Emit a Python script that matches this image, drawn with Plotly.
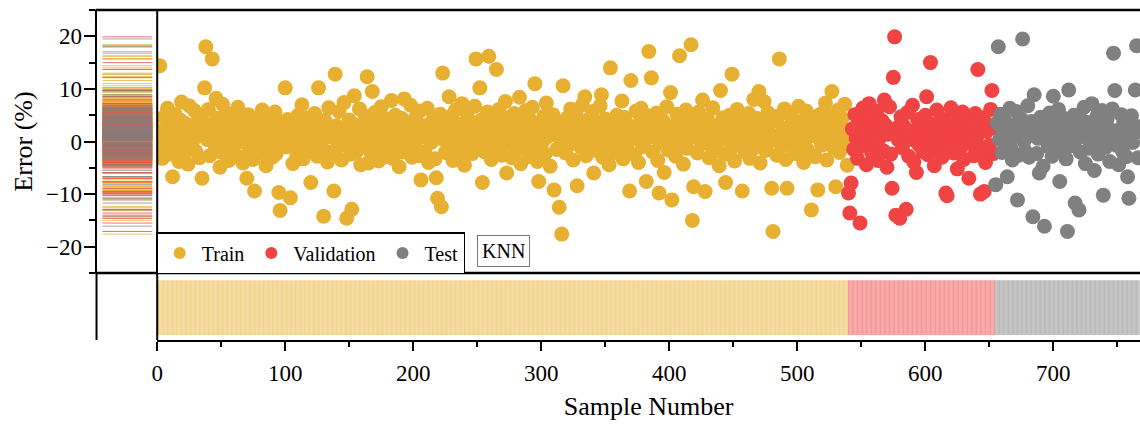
import plotly.graph_objects as go

# ---------------- data (error % per sample) ----------------
train_err = [
    2.1, -1.5, 14.4, 0.8, -3.2, 4.6, 1.2, -0.5, 6.3, 3.1, -2.4, 0.3, -6.7, 2.8, 5.2, -1.1, 1.7, -3.8, 4.1, 7.5,
    0.6, -2.2, 3.4, 1.9, -4.3, 6.8, 2.5, -0.9, 0.2, 5.9, -1.8, 3.7, 1.1, -3.1, 4.8, -7.0, 2.2, 10.2, 18.0, 0.4,
    6.1, -2.7, 3.3, 15.7, 1.5, -0.6, 8.2, 4.4, -1.9, -4.9, 2.9, 7.1, 0.1, -2.5, 5.4, 1.6, -3.6, 3.0, 0.7, -1.2,
    4.7, 2.3, -0.3, 6.5, -2.9, 1.4, 3.8, -4.1, 0.9, 2.6, -7.0, 5.1, -1.4, 3.5, 0.5, -3.4, -9.4, 1.8, 4.3, -0.8,
    2.0, -2.1, 6.0, 0.0, 3.2, -4.6, 1.3, 4.9, -1.6, 2.7, -3.0, 0.6, 5.6, -2.3, 1.0, -9.7, -13.1, 3.6, -0.2, 2.4,
    10.2, -1.0, 4.2, 0.8, -10.7, 2.1, -4.2, 3.9, 1.6, -2.6, 5.0, -0.4, 2.9, 7.0, -3.3, 1.2, 4.5, -1.7, 0.3, 3.1,
    -7.8, 2.2, -0.7, 5.3, 1.9, -2.8, 10.2, 3.4, 0.4, -1.3, -14.2, 4.0, 1.5, -3.9, 6.4, 0.9, -2.0, 2.6, -9.4, 12.8,
    3.0, -1.1, 5.7, 0.2, -3.5, 2.3, 7.4, -0.6, -14.6, 1.7, 4.1, -2.4, -12.9, 3.3, 8.7, 0.5, -1.8, 2.8, 6.2, -4.4,
    1.0, 3.6, -0.9, 4.8, 12.3, -4.1, 2.0, -2.2, 9.5, 0.7, 5.5, -1.5, 3.2, -3.7, 1.4, 6.6, -0.3, 2.5, -2.9, 4.3,
    0.1, -1.6, 3.9, 7.8, -3.2, 1.8, 5.0, -0.8, 2.7, -4.8, 0.6, 4.4, -2.0, 8.1, 1.3, -1.2, 3.5, 0.0, 6.9, -3.0,
    2.4, -0.5, 4.6, 1.1, -2.7, 5.8, -7.3, 0.9, 3.0, -1.9, 2.2, 6.3, -4.0, 1.6, -0.2, 4.0, 2.9, -3.3, -6.9, -10.8,
    1.7, 5.2, -12.4, 13.0, 0.3, -2.1, 3.7, 1.0, 8.5, -1.4, 4.9, -3.6, 2.0, 6.0, -0.7, 1.5, -2.5, 3.3, 7.2, 0.8,
    -4.5, 2.6, 5.4, -1.0, 0.4, 3.8, -2.3, 1.9, 6.7, 15.7, -0.9, 2.8, 10.2, 4.1, -7.8, 0.6, -2.0, 3.1, 5.6, 16.2,
    1.2, -3.4, 4.5, 0.0, 2.3, 13.7, -1.3, 6.1, 1.7, -2.6, 3.9, 0.5, 7.6, -6.0, 2.1, -0.4, 4.7, -3.1, 1.4, 5.3,
    -1.7, 2.9, 0.2, 8.4, -4.2, 3.4, 1.0, -0.8, 5.9, 2.5, -2.9, 4.2, 0.7, 6.5, -1.2, 11.0, 2.0, -3.8, -7.6, 3.6,
    1.3, -0.1, 4.8, -2.4, 7.3, 0.9, 3.0, -4.7, 2.2, 5.1, -9.2, 1.6, -1.5, 3.7, -12.5, 0.4, -17.6, 10.6, 2.7, -2.2,
    4.4, 1.1, -0.6, 6.2, 2.9, -3.5, 0.8, 5.5, -8.4, 1.9, 3.3, -1.1, 7.0, 0.3, 8.5, -2.7, 4.1, 1.5, -0.9, 2.6,
    5.7, -6.0, 0.6, 3.5, -1.8, 2.0, 6.8, 8.9, -3.0, 1.2, 4.3, -0.5, 2.4, -4.4, 14.0, 0.9, 3.8, -2.1, 1.7, 5.0,
    -1.4, 2.8, 0.1, 7.7, -3.3, 4.6, 1.4, -0.7, 3.1, -9.4, 11.6, 0.5, 2.3, -2.5, 5.8, 1.0, -4.0, 3.6, 6.3, -1.0,
    2.1, 0.2, -7.6, 4.9, 17.1, 1.8, 12.1, -2.0, 3.2, 0.7, 5.4, -3.6, -9.8, 2.5, -0.3, 4.0, -5.9, 1.3, 6.6, -1.6,
    3.0, 9.3, -11.1, 0.4, 2.7, -2.8, 5.2, 1.6, 16.3, -0.8, 3.9, -4.3, 1.1, 6.0, -1.3, 2.4, 4.7, 18.4, -15.0, -8.6,
    0.9, 3.3, -2.2, 5.6, 1.5, -0.4, 7.9, 2.0, -9.5, 0.6, 4.2, -3.1, 1.8, -0.9, 6.4, 3.0, -1.9, 2.6, 0.0, -4.6,
    9.7, 1.2, 4.5, -2.4, -7.8, 2.8, 0.3, 5.0, -1.5, 12.8, 3.4, -3.7, 1.7, 6.1, -0.6, 2.2, 4.0, -9.4, 0.8, -2.0,
    3.7, 1.0, 5.3, -3.2, 0.5, 2.9, 8.0, -1.2, 4.4, 1.9, 9.5, -4.1, 0.2, 3.1, 7.6, -1.7, 2.3, 5.5, -0.2, 1.4,
    -8.9, -17.1, 3.9, 0.7, -2.6, 4.8, 15.7, 1.1, -0.8, 2.5, 6.2, -3.4, -8.9, 1.6, 5.1, 3.2, -1.0, 0.4, 4.1, -2.3,
    2.0, 6.7, -0.5, 3.5, 1.2, -4.0, 2.7, 5.8, -1.6, 0.9, 3.6, -13.0, 1.4, 4.6, -2.9, 2.1, -9.2, 0.6, 5.2, -0.7,
    3.0, 1.8, 7.3, -3.5, 2.4, 0.2, 4.9, 9.5, -1.1, 3.3, -8.6, 1.0, 6.0, -2.1, 2.6, 4.4, -0.4, 7.1, 1.5, -4.5,
]

val_err = [
    -9.8, -13.6, -7.9, 2.4, -1.5, 5.1, 0.6, -3.2, 3.8, -15.5, 1.2, 6.3, -0.8, 2.9, -4.4, 4.5, 7.2, 0.1, -2.1, 3.4,
    1.7, -0.5, 5.8, -3.6, 2.2, 0.9, 4.0, -1.7, 7.9, 3.1, -4.9, 1.4, 6.6, -2.4, -8.9, 12.2, 19.9, -14.0, 2.6, 0.3,
    -14.6, 4.7, -1.2, 3.0, 1.0, -12.9, 5.5, -2.8, 2.0, 0.4, 6.9, -3.9, 1.8, -5.9, 4.2, -0.6, 2.7, 3.6, -1.9, 0.8,
    5.0, 8.5, -2.5, 1.5, 15.0, 3.3, -0.2, -4.6, 2.1, 6.0, 0.7, -1.4, 4.4, -3.0, 1.1, 2.8, -9.8, -10.3, 3.9, -0.9,
    6.4, 1.6, -2.2, 4.1, 0.2, -5.2, 2.5, 3.7, -1.1, 5.6, -3.4, 0.9, 2.3, 4.8, -7.0, 1.3, -0.4, 3.0, -2.7, 5.3,
    0.5, 13.7, 2.0, -10.0, -1.6, 4.5, -9.5, -4.0, 1.9, 3.2, -0.7, 6.1, 9.7, -2.3, 2.6,
]

test_err = [
    -8.2, 3.5, 18.0, 0.4, 5.2, -2.1, 1.8, 4.0, -0.6, -6.7, 2.7, 6.3, -1.4, -3.5, 0.9, 3.1, 5.7, -11.1, -2.6, 1.5,
    4.3, 19.5, 0.0, -1.8, 2.4, 6.8, -3.0, 1.2, 3.8, -14.3, 8.9, 2.1, -2.3, 0.6, -6.0, 4.6, 1.4, -4.7, -16.1, 3.0,
    0.8, -1.0, 5.4, 2.2, -2.8, 8.6, 1.0, 3.9, -0.3, 6.1, -7.6, 2.6, -1.6, 4.4, 0.3, -3.3, -17.1, 9.8, 1.7, -0.8,
    3.3, 5.0, -11.7, 0.5, 2.9, -13.0, -2.0, 4.1, 1.1, 6.5, -4.2, 0.7, 3.6, -1.3, 2.0, 7.2, -0.5, -5.5, 1.9, 4.8,
    -2.4, 0.2, 3.0, 5.9, -10.2, 1.6, -1.1, 4.3, 2.5, -3.8, 0.9, 6.2, 16.8, 9.7, -0.7, 2.1, -4.4, 1.3, 5.1, -1.9,
    3.7, 0.4, -2.9, -6.7, -10.8, 2.3, 4.9, -0.2, 1.5, 9.8, 18.2, -3.1, 2.8,
]

set_names = ["Train", "Validation", "Test"]
y_ticks = [-20, -10, 0, 10, 20]
x_ticks = [0, 100, 200, 300, 400, 500, 600, 700]

# ---------------- styling ----------------
COLORS = ["#E7B031", "#F04343", "#808080"]
STRIP_COLORS = ["rgba(231,176,49,0.55)", "rgba(240,67,67,0.55)", "rgba(128,128,128,0.55)"]
HLINE_COLORS = ["rgba(231,176,49,0.75)", "rgba(240,67,67,0.75)", "rgba(128,128,128,0.7)"]
FONT = "Liberation Serif"
W, H = 1140, 425

def fx(p):
    return p / W

def fy(p):
    return 1 - p / H

X_MAX = (W - 152) / 128.7 * 100  # right edge of plot in sample units

series = [train_err, val_err, test_err]
starts = [0, len(train_err), len(train_err) + len(val_err)]
xs = [list(range(s, s + len(v))) for s, v in zip(starts, series)]

fig = go.Figure()

# main scatter
for name, x, y, c in zip(set_names, xs, series, COLORS):
    fig.add_trace(go.Scatter(x=x, y=y, mode="markers", name=name,
                             marker=dict(color=c, size=15, line=dict(width=0)),
                             xaxis="x", yaxis="y"))

# left strip: horizontal line per error value
for name, y, c in zip(set_names, series, HLINE_COLORS):
    hx, hy = [], []
    for v in y:
        hx += [0, 1, None]
        hy += [v, v, None]
    fig.add_trace(go.Scatter(x=hx, y=hy, mode="lines", line=dict(color=c, width=1),
                             showlegend=False, hoverinfo="skip", xaxis="x2", yaxis="y2"))

# bottom strip: vertical line per sample
for name, x, c in zip(set_names, xs, STRIP_COLORS):
    vx, vy = [], []
    for i in x:
        vx += [i, i, None]
        vy += [0, 1, None]
    fig.add_trace(go.Scatter(x=vx, y=vy, mode="lines", line=dict(color=c, width=1.2),
                             showlegend=False, hoverinfo="skip", xaxis="x3", yaxis="y3"))

top_dom = [fy(273), fy(10)]
fig.update_layout(
    width=W, height=H,
    margin=dict(l=0, r=0, t=0, b=0),
    paper_bgcolor="white", plot_bgcolor="white",
    font=dict(family=FONT, color="black", size=22),
    xaxis=dict(domain=[fx(152), 1], range=[0, X_MAX], anchor="y", visible=False),
    yaxis=dict(domain=top_dom, range=[-25, 25], anchor="x", visible=False),
    xaxis2=dict(domain=[fx(91), fx(152)], range=[-0.12, 1.10], anchor="y2", visible=False),
    yaxis2=dict(domain=top_dom, range=[-25, 25], anchor="x2",
                tickvals=y_ticks, ticks="outside", ticklen=11, tickwidth=2, tickcolor="black",
                minor=dict(dtick=5, tick0=0, ticks="outside", ticklen=6, tickwidth=2, tickcolor="black"),
                showline=True, linewidth=2, linecolor="black", showgrid=False, zeroline=False,
                tickfont=dict(family=FONT, size=23), ticklabelstandoff=-3,
                title=dict(text="Error (%)", font=dict(family=FONT, size=26), standoff=6)),
    xaxis3=dict(domain=[fx(152), 1], range=[0, X_MAX], anchor="y3",
                tickvals=x_ticks, ticks="outside", ticklen=9, tickwidth=2, tickcolor="black",
                minor=dict(dtick=50, tick0=0, ticks="outside", ticklen=5, tickwidth=2, tickcolor="black"),
                showline=True, linewidth=2, linecolor="black", showgrid=False, zeroline=False,
                tickfont=dict(family=FONT, size=23), ticklabelstandoff=2,
                title=dict(text="Sample Number", font=dict(family=FONT, size=26), standoff=12)),
    yaxis3=dict(domain=[fy(340), fy(273)], range=[-0.09, 1.13], anchor="x3", visible=False),
    legend=dict(orientation="h", x=fx(151), y=fy(232), xanchor="left", yanchor="top",
                bordercolor="black", borderwidth=1.5, bgcolor="white",
                font=dict(family=FONT, size=20), itemsizing="constant", itemwidth=34,
                tracegroupgap=0),
    showlegend=True,
)

# frame lines
line = dict(color="black", width=2.5)
fig.add_shape(type="line", xref="paper", yref="paper", x0=fx(90), x1=1, y0=fy(10), y1=fy(10), line=line)
fig.add_shape(type="line", xref="paper", yref="paper", x0=fx(90), x1=1, y0=fy(273), y1=fy(273), line=line)
fig.add_shape(type="line", xref="paper", yref="paper", x0=fx(152), x1=fx(152), y0=fy(10), y1=fy(340),
              line=dict(color="black", width=2))
fig.add_shape(type="line", xref="paper", yref="paper", x0=fx(91), x1=fx(91), y0=fy(273), y1=fy(340),
              line=dict(color="black", width=2))

# method tag
fig.add_annotation(xref="paper", yref="paper", x=fx(500), y=fy(251), text="KNN", showarrow=False,
                   font=dict(family=FONT, size=20, color="black"),
                   bordercolor="#777777", borderwidth=1, borderpad=4, bgcolor="white")

fig.write_html("out.html")
